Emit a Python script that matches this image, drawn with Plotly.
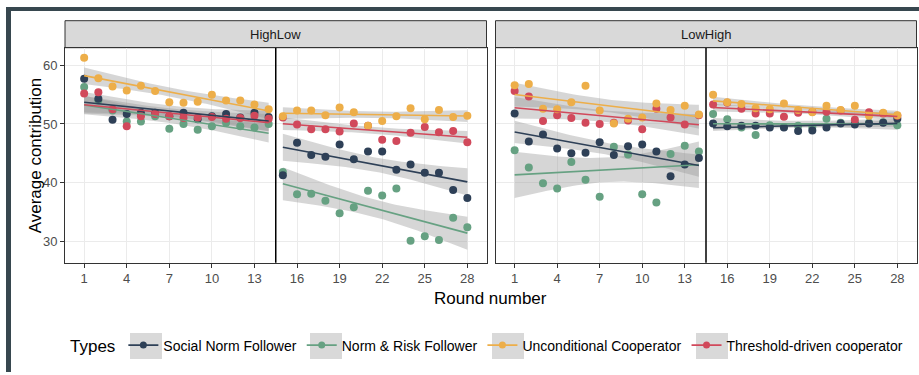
import numpy as np
import plotly.graph_objects as go

W, H = 919, 375

rounds = list(range(1, 29))
tick_rounds = [1, 4, 7, 10, 13, 16, 19, 22, 25, 28]
y_ticks = [30, 40, 50, 60]
panels = ["HighLow", "LowHigh"]
types = ["Social Norm Follower", "Norm & Risk Follower",
         "Unconditional Cooperator", "Threshold-driven cooperator"]
colors = ["#2e4057", "#66a182", "#edae49", "#d1495b"]

# HighLow panel
hl_social = [57.7, 54.3, 50.7, 51.7, 51.9, 51.9, 51.3, 51.9, 50.8, 51.3, 51.7, 51.1, 51.9, 51.2,
             41.25, 46.8, 44.7, 44.4, 46.5, 44.0, 45.3, 45.3, 42.2, 43.1, 41.7, 41.7, 38.75, 37.4]
hl_normrisk = [56.3, 54.0, 52.3, 50.4, 50.4, 51.3, 49.2, 50.0, 49.0, 49.6, 50.2, 49.6, 49.4, 50.0,
               41.8, 38.0, 38.1, 36.9, 34.8, 35.8, 38.6, 37.8, 39.0, 30.1, 30.85, 30.2, 34.0, 32.4]
hl_uncond = [61.3, 57.8, 56.4, 55.7, 56.5, 55.6, 53.7, 53.6, 53.8, 55.0, 54.0, 54.0, 53.3, 52.5,
             51.3, 52.3, 52.3, 51.5, 52.8, 52.0, 49.7, 50.5, 51.3, 52.7, 50.8, 52.4, 51.2, 51.4]
hl_thresh = [55.2, 55.4, 52.5, 49.6, 51.3, 51.7, 51.3, 51.0, 51.1, 51.2, 50.9, 51.0, 51.4, 50.9,
             51.1, 49.9, 49.1, 49.1, 48.7, 50.1, 49.7, 47.3, 47.1, 48.5, 49.5, 48.6, 48.8, 46.9]

# LowHigh panel
lh_social = [51.8, 47.0, 48.2, 45.8, 45.0, 45.1, 46.9, 44.7, 46.2, 46.5, 45.3, 41.1, 43.1, 44.2,
             50.1, 49.6, 49.7, 49.7, 49.4, 49.4, 48.8, 48.9, 49.4, 50.1, 49.9, 50.1, 50.2, 50.9]
lh_normrisk = [45.5, 42.6, 39.9, 39.0, 43.5, 40.5, 37.6, 46.1, 44.8, 38.0, 36.6, 44.9, 46.3, 45.3,
               51.7, 50.8, 49.4, 48.1, 49.8, 49.5, 49.7, 49.5, 50.9, 50.2, 50.2, 50.2, 50.3, 49.8]
lh_uncond = [56.6, 56.8, 52.6, 52.5, 53.7, 56.5, 52.3, 50.1, 50.9, 51.1, 53.5, 52.4, 53.1, 51.6,
             55.0, 53.7, 53.4, 52.7, 52.5, 53.5, 52.4, 52.0, 53.1, 52.4, 53.1, 51.4, 51.9, 51.5]
lh_thresh = [55.6, 54.7, 50.5, 51.5, 51.0, 50.2, 50.0, 50.2, 50.6, 49.1, 52.6, 51.1, 49.9, 51.5,
             53.3, 53.6, 52.6, 51.8, 51.8, 51.25, 51.9, 52.1, 52.1, 52.3, 50.7, 52.0, 51.8, 51.4]

panel_data = {
    "HighLow": [hl_social, hl_normrisk, hl_uncond, hl_thresh],
    "LowHigh": [lh_social, lh_normrisk, lh_uncond, lh_thresh],
}
phases = [(1, 14), (15, 28)]
T_CRIT = 2.1788  # t(0.975, df=12)
draw_order = [1, 0, 3, 2]


def lm_fit(xs, ys):
    xs = np.asarray(xs, float)
    ys = np.asarray(ys, float)
    n = len(xs)
    b, a = np.polyfit(xs, ys, 1)
    resid = ys - (a + b * xs)
    s = np.sqrt(np.sum(resid ** 2) / (n - 2))
    xbar = xs.mean()
    sxx = np.sum((xs - xbar) ** 2)
    xg = np.linspace(xs.min(), xs.max(), 60)
    yg = a + b * xg
    se = s * np.sqrt(1.0 / n + (xg - xbar) ** 2 / sxx)
    return xg, yg, yg - T_CRIT * se, yg + T_CRIT * se


fig = go.Figure()
for pi, panel in enumerate(panels):
    xa = "x" if pi == 0 else "x2"
    ya = "y" if pi == 0 else "y2"
    series = panel_data[panel]
    fits = {}
    for ti in range(4):
        for (r0, r1) in phases:
            xs = rounds[r0 - 1:r1]
            ys = series[ti][r0 - 1:r1]
            fits[(ti, r0)] = lm_fit(xs, ys)
    # bands
    for ti in draw_order:
        for (r0, r1) in phases:
            xg, yg, lo, hi = fits[(ti, r0)]
            fig.add_trace(go.Scatter(
                x=np.concatenate([xg, xg[::-1]]), y=np.concatenate([hi, lo[::-1]]),
                fill="toself", fillcolor="rgba(153,153,153,0.4)", line=dict(width=0),
                mode="lines", hoverinfo="skip", showlegend=False, xaxis=xa, yaxis=ya))
    # points
    for ti in draw_order:
        fig.add_trace(go.Scatter(
            x=rounds, y=series[ti], mode="markers",
            marker=dict(color=colors[ti], size=8, line=dict(width=0)),
            name=types[ti], showlegend=False, xaxis=xa, yaxis=ya))
    # lines
    for ti in draw_order:
        for (r0, r1) in phases:
            xg, yg, lo, hi = fits[(ti, r0)]
            fig.add_trace(go.Scatter(
                x=xg, y=yg, mode="lines", line=dict(color=colors[ti], width=1.6),
                hoverinfo="skip", showlegend=False, xaxis=xa, yaxis=ya))

# legend entries
for ti in range(4):
    fig.add_trace(go.Scatter(
        x=[None], y=[None], mode="lines+markers", name=types[ti],
        line=dict(color=colors[ti], width=1.6),
        marker=dict(color=colors[ti], size=7), showlegend=True))

L0, L1 = 65 / W, 486.5 / W
R0, R1 = 495.5 / W, 916.5 / W
Y0, Y1 = 1 - 262.7 / H, 1 - 48 / H
ST0, ST1 = 1 - 47.7 / H, 1 - 20.7 / H

axis_common = dict(
    showline=True, mirror=True, linecolor="#333333", linewidth=1,
    ticks="outside", ticklen=4, tickcolor="#333333", tickwidth=1,
    gridcolor="#ebebeb", gridwidth=1.4, zeroline=False,
    tickfont=dict(family="Liberation Sans, Arial, sans-serif", size=13, color="#4d4d4d"),
)

fig.update_layout(
    width=W, height=H, margin=dict(l=0, r=0, t=0, b=0),
    paper_bgcolor="white", plot_bgcolor="white",
    font=dict(family="Liberation Sans, Arial, sans-serif", color="#1a1a1a"),
    xaxis=dict(domain=[L0, L1], range=[-0.35, 29.35], tickvals=tick_rounds, anchor="y", **axis_common),
    xaxis2=dict(domain=[R0, R1], range=[-0.35, 29.35], tickvals=tick_rounds, anchor="y2", **axis_common),
    yaxis=dict(domain=[Y0, Y1], range=[26.35, 62.95], tickvals=y_ticks, anchor="x", **axis_common),
    yaxis2=dict(domain=[Y0, Y1], range=[26.35, 62.95], tickvals=y_ticks, anchor="x2",
                showticklabels=False, **{k: v for k, v in axis_common.items() if k not in ("ticks",)},
                ticks=""),
    showlegend=True,
    legend=dict(orientation="h", x=68 / W, xanchor="left", y=1 - 346 / H, yanchor="middle",
                title=dict(text="Types", font=dict(size=17, color="#000000"), side="left"),
                font=dict(size=14, color="#000000"), itemwidth=30,
                bgcolor="rgba(0,0,0,0)"),
)

shapes = []
for (a, b), xr in (((L0, L1), "x"), ((R0, R1), "x2")):
    shapes.append(dict(type="rect", xref="paper", yref="paper", x0=a, x1=b, y0=ST0, y1=ST1,
                       fillcolor="#d9d9d9", line=dict(color="#333333", width=1), layer="below"))
    shapes.append(dict(type="line", xref=xr, yref=("y domain" if xr == "x" else "y2 domain"),
                       x0=14.5, x1=14.5, y0=0, y1=1, line=dict(color="#000000", width=1.5)))
# legend key backgrounds (grey, as the smoother band in the key)
for cx in (146, 326, 508, 712):
    shapes.append(dict(type="rect", xref="paper", yref="paper",
                       x0=(cx - 16) / W, x1=(cx + 16) / W, y0=1 - 359 / H, y1=1 - 333 / H,
                       fillcolor="#d9d9d9", line=dict(width=0), layer="below"))
# outer dark frame
shapes.append(dict(type="rect", xref="paper", yref="paper", x0=6 / W, x1=1, y0=1 - 11 / H, y1=1 - 7 / H,
                   fillcolor="#37474f", line=dict(width=0)))
shapes.append(dict(type="rect", xref="paper", yref="paper", x0=6 / W, x1=11 / W, y0=1 - 372 / H, y1=1 - 7 / H,
                   fillcolor="#37474f", line=dict(width=0)))
fig.update_layout(shapes=shapes)

ann = []
for (a, b), label in (((L0, L1), panels[0]), ((R0, R1), panels[1])):
    ann.append(dict(text=label, x=(a + b) / 2, y=(ST0 + ST1) / 2, xref="paper", yref="paper",
                    showarrow=False, font=dict(size=13, color="#1a1a1a"),
                    xanchor="center", yanchor="middle"))
ann.append(dict(text="Round number", x=(L0 + R1) / 2, y=1 - 298 / H, xref="paper", yref="paper",
                showarrow=False, font=dict(size=17, color="#000000"), xanchor="center", yanchor="middle"))
ann.append(dict(text="Average contribution", x=35 / W, y=(Y0 + Y1) / 2, xref="paper", yref="paper",
                showarrow=False, textangle=-90, font=dict(size=17, color="#000000"),
                xanchor="center", yanchor="middle"))
fig.update_layout(annotations=ann)

fig.write_html("out.html")
